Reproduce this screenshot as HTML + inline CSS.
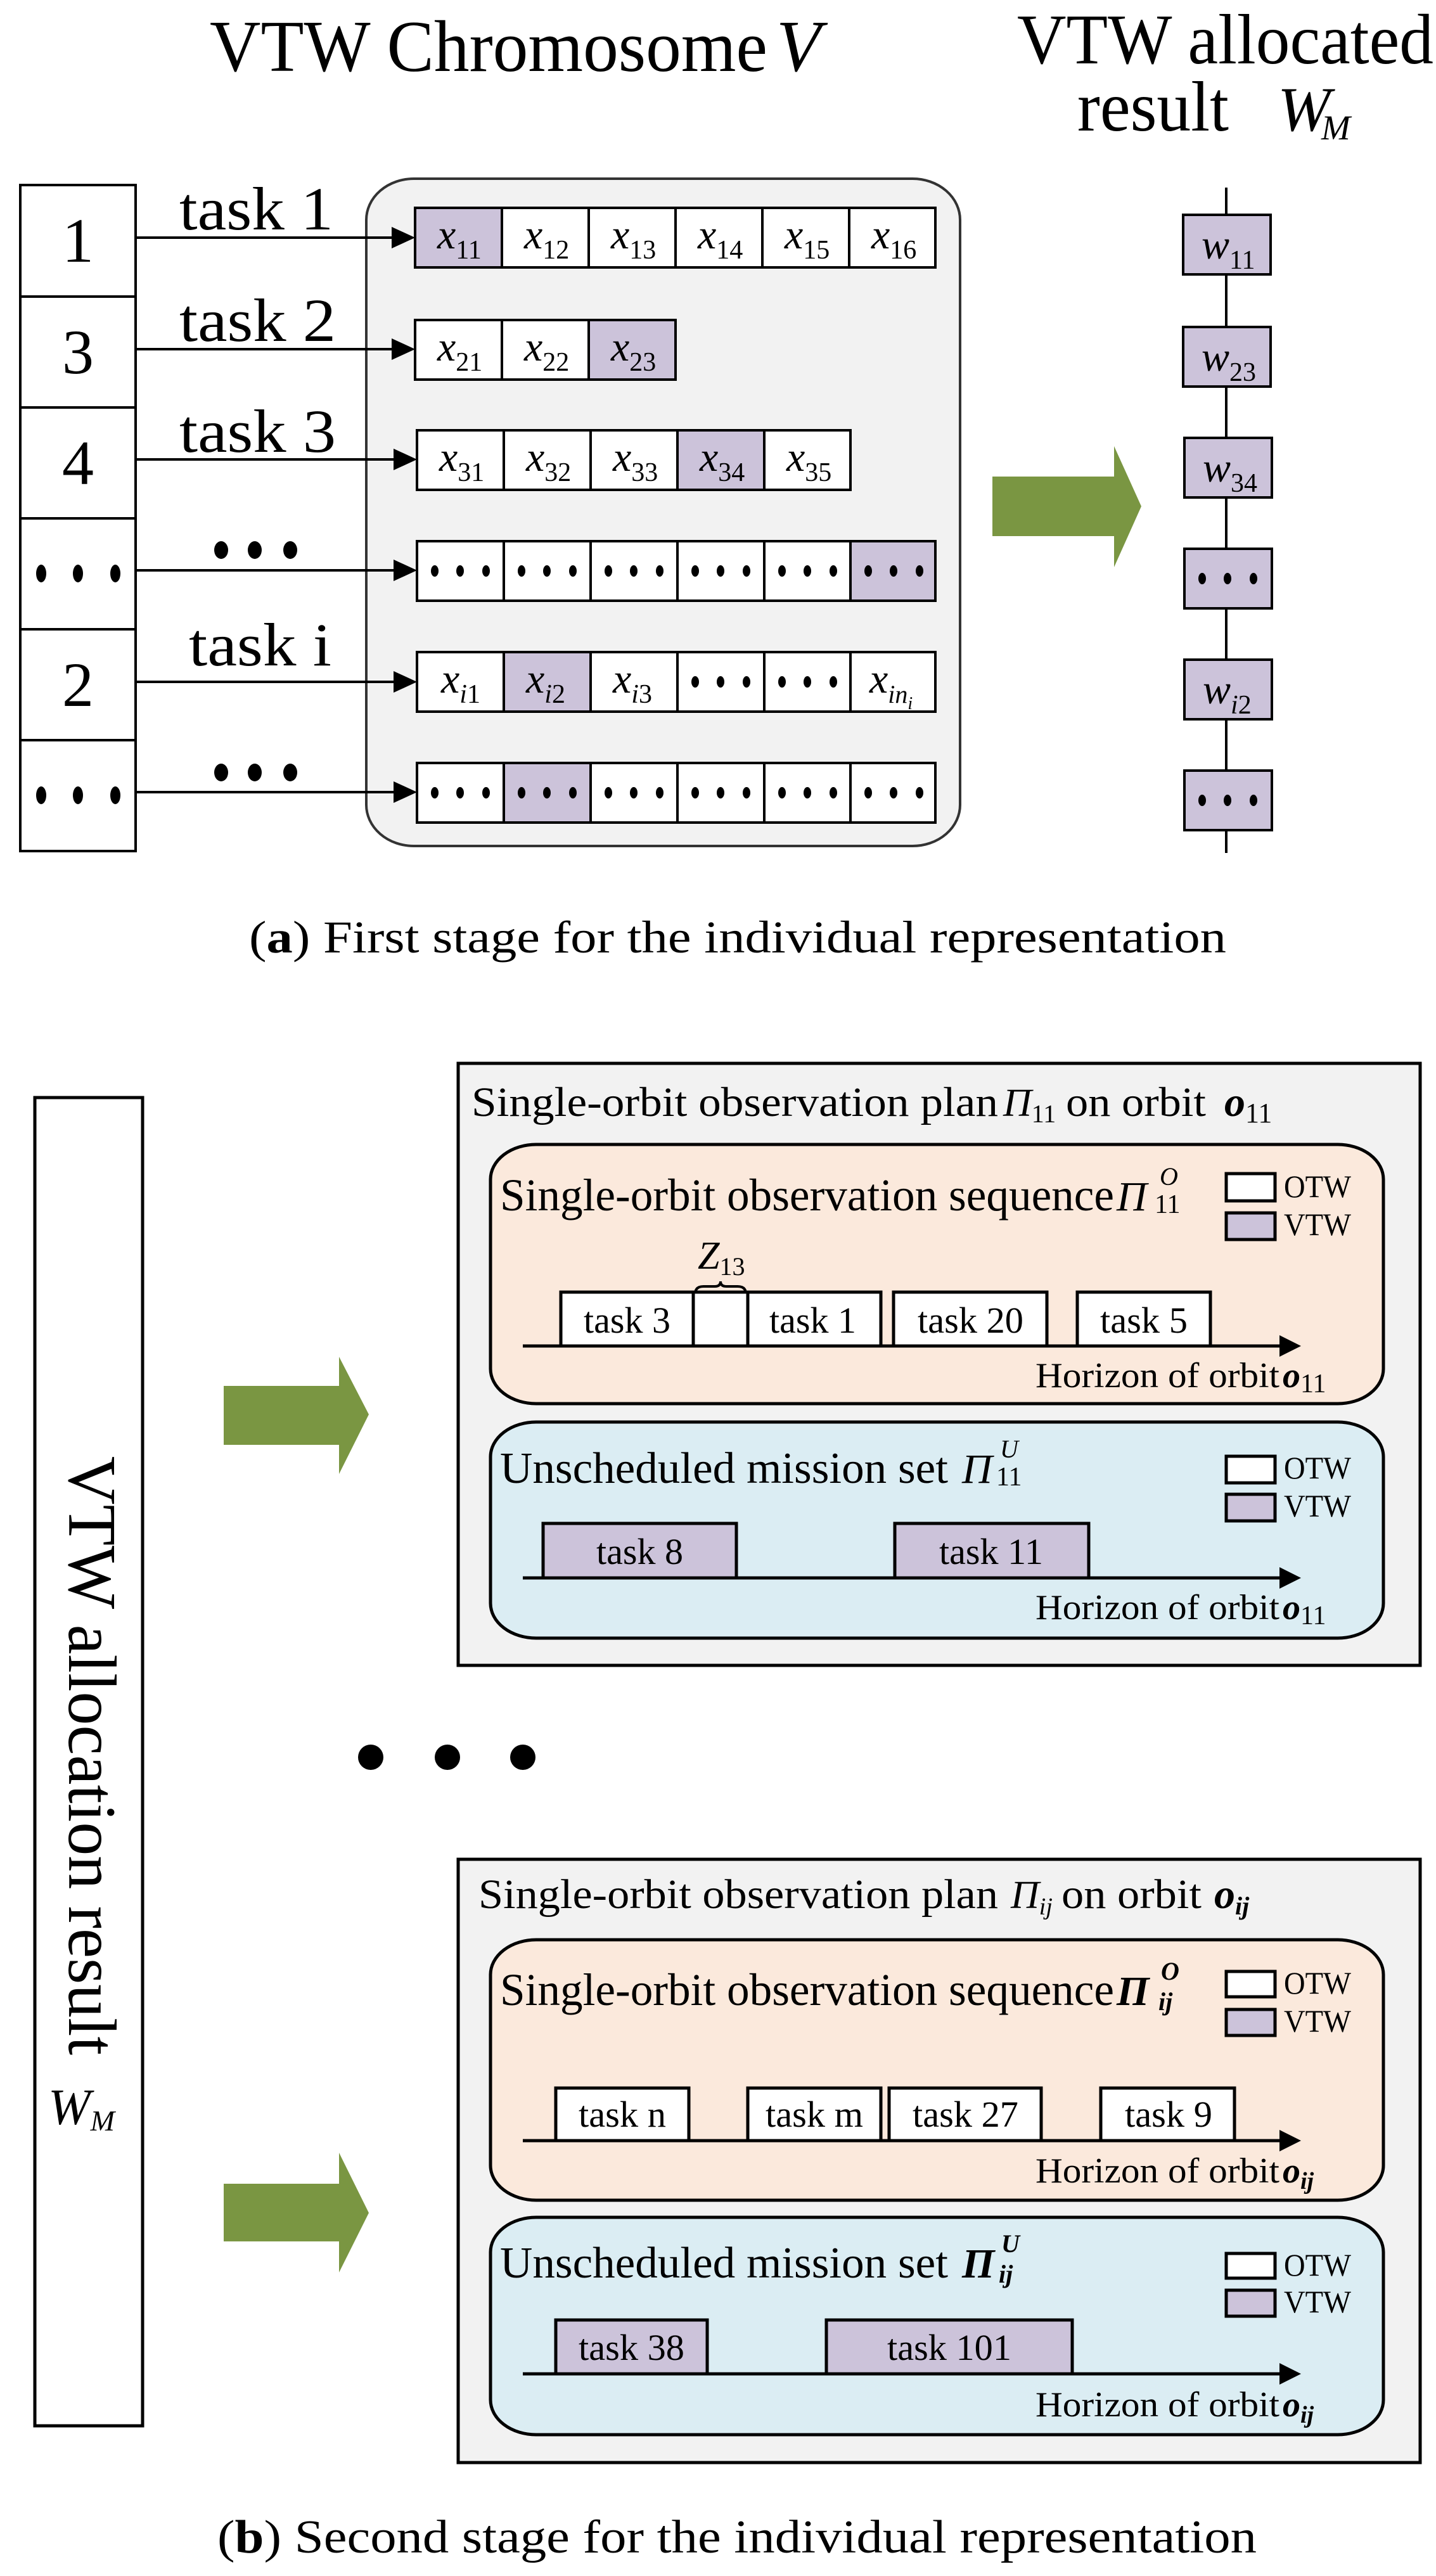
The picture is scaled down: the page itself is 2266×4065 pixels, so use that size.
<!DOCTYPE html>
<html><head><meta charset="utf-8"><style>
html,body{margin:0;padding:0;background:#fff}
svg{display:block}
text{font-family:"Liberation Serif",serif;fill:#000}
.i{font-style:italic}
</style></head><body>
<svg width="2266" height="4065" viewBox="0 0 2266 4065" xmlns="http://www.w3.org/2000/svg">
<defs>
<marker id="ah" markerWidth="10" markerHeight="10" refX="9" refY="5" orient="auto" markerUnits="userSpaceOnUse">
</marker>
</defs>
<!-- ===== Part (a) ===== -->
<text x="331" y="112" font-size="115" textLength="880" lengthAdjust="spacingAndGlyphs">VTW Chromosome</text>
<text x="1225" y="112" font-size="115" class="i">V</text>
<text x="1605" y="100" font-size="112" textLength="657" lengthAdjust="spacingAndGlyphs">VTW allocated</text>
<text x="1700" y="206" font-size="112" textLength="239" lengthAdjust="spacingAndGlyphs">result</text>
<text x="2016" y="206" font-size="100" class="i">W</text><text x="2085" y="220" font-size="55" class="i">M</text>

<!-- left column -->
<g stroke="#000" stroke-width="4" fill="#fff">
<rect x="32" y="292" width="182" height="1051"/>
<line x1="32" y1="468" x2="214" y2="468"/><line x1="32" y1="643" x2="214" y2="643"/>
<line x1="32" y1="818" x2="214" y2="818"/><line x1="32" y1="993" x2="214" y2="993"/>
<line x1="32" y1="1168" x2="214" y2="1168"/>
</g>
<g font-size="100" text-anchor="middle">
<text x="123" y="413">1</text><text x="123" y="589">3</text><text x="123" y="764">4</text><text x="123" y="1114">2</text>
</g>
<g fill="#000">
<ellipse cx="65" cy="905" rx="8" ry="14"/><ellipse cx="123" cy="905" rx="8" ry="14"/><ellipse cx="182" cy="905" rx="8" ry="14"/>
<ellipse cx="65" cy="1255" rx="8" ry="14"/><ellipse cx="123" cy="1255" rx="8" ry="14"/><ellipse cx="182" cy="1255" rx="8" ry="14"/>
<ellipse cx="349" cy="868" rx="11" ry="14"/><ellipse cx="402" cy="868" rx="11" ry="14"/><ellipse cx="458" cy="868" rx="11" ry="14"/>
<ellipse cx="349" cy="1219" rx="11" ry="14"/><ellipse cx="402" cy="1219" rx="11" ry="14"/><ellipse cx="458" cy="1219" rx="11" ry="14"/>
</g>
<g font-size="96">
<text x="283" y="362" textLength="243" lengthAdjust="spacingAndGlyphs">task 1</text>
<text x="283" y="538" textLength="247" lengthAdjust="spacingAndGlyphs">task 2</text>
<text x="283" y="713" textLength="247" lengthAdjust="spacingAndGlyphs">task 3</text>
<text x="298" y="1050" textLength="225" lengthAdjust="spacingAndGlyphs">task i</text>
</g>

<!-- gray container -->
<rect x="578" y="282" width="937" height="1053" rx="75" ry="65" fill="#f2f2f2" stroke="#333" stroke-width="4"/>

<!-- arrows -->
<g stroke="#000" stroke-width="4">
<line x1="214" y1="375" x2="625" y2="375"/><line x1="214" y1="551" x2="625" y2="551"/>
<line x1="214" y1="725" x2="628" y2="725"/><line x1="214" y1="900" x2="628" y2="900"/>
<line x1="214" y1="1076" x2="628" y2="1076"/><line x1="214" y1="1250" x2="628" y2="1250"/>
</g>
<g fill="#000">
<polygon points="618,358 655,375 618,392"/><polygon points="618,534 655,551 618,568"/>
<polygon points="621,708 658,725 621,742"/><polygon points="621,883 658,900 621,917"/>
<polygon points="621,1059 658,1076 621,1093"/><polygon points="621,1233 658,1250 621,1267"/>
</g>

<!-- cells -->
<g stroke="#000" stroke-width="4">
<!-- row1 -->
<rect x="655" y="328" width="137" height="94" fill="#ccc3da"/>
<rect x="792" y="328" width="137" height="94" fill="#fff"/><rect x="929" y="328" width="137" height="94" fill="#fff"/>
<rect x="1066" y="328" width="137" height="94" fill="#fff"/><rect x="1203" y="328" width="137" height="94" fill="#fff"/>
<rect x="1340" y="328" width="136" height="94" fill="#fff"/>
<!-- row2 -->
<rect x="655" y="505" width="137" height="94" fill="#fff"/><rect x="792" y="505" width="137" height="94" fill="#fff"/>
<rect x="929" y="505" width="137" height="94" fill="#ccc3da"/>
<!-- row3 -->
<rect x="658" y="679" width="137" height="94" fill="#fff"/><rect x="795" y="679" width="137" height="94" fill="#fff"/>
<rect x="932" y="679" width="137" height="94" fill="#fff"/><rect x="1069" y="679" width="137" height="94" fill="#ccc3da"/>
<rect x="1206" y="679" width="136" height="94" fill="#fff"/>
<!-- row4 -->
<rect x="658" y="854" width="137" height="94" fill="#fff"/><rect x="795" y="854" width="137" height="94" fill="#fff"/>
<rect x="932" y="854" width="137" height="94" fill="#fff"/><rect x="1069" y="854" width="137" height="94" fill="#fff"/>
<rect x="1206" y="854" width="136" height="94" fill="#fff"/><rect x="1342" y="854" width="134" height="94" fill="#ccc3da"/>
<!-- row5 -->
<rect x="658" y="1029" width="137" height="94" fill="#fff"/><rect x="795" y="1029" width="137" height="94" fill="#ccc3da"/>
<rect x="932" y="1029" width="137" height="94" fill="#fff"/><rect x="1069" y="1029" width="137" height="94" fill="#fff"/>
<rect x="1206" y="1029" width="136" height="94" fill="#fff"/><rect x="1342" y="1029" width="134" height="94" fill="#fff"/>
<!-- row6 -->
<rect x="658" y="1204" width="137" height="94" fill="#fff"/><rect x="795" y="1204" width="137" height="94" fill="#ccc3da"/>
<rect x="932" y="1204" width="137" height="94" fill="#fff"/><rect x="1069" y="1204" width="137" height="94" fill="#fff"/>
<rect x="1206" y="1204" width="136" height="94" fill="#fff"/><rect x="1342" y="1204" width="134" height="94" fill="#fff"/>
</g>
<g font-size="66">
<text x="690" y="392"><tspan class="i">x</tspan><tspan font-size="42" dy="16">11</tspan></text>
<text x="827" y="392"><tspan class="i">x</tspan><tspan font-size="42" dy="16">12</tspan></text>
<text x="964" y="392"><tspan class="i">x</tspan><tspan font-size="42" dy="16">13</tspan></text>
<text x="1101" y="392"><tspan class="i">x</tspan><tspan font-size="42" dy="16">14</tspan></text>
<text x="1238" y="392"><tspan class="i">x</tspan><tspan font-size="42" dy="16">15</tspan></text>
<text x="1375" y="392"><tspan class="i">x</tspan><tspan font-size="42" dy="16">16</tspan></text>
<text x="690" y="569"><tspan class="i">x</tspan><tspan font-size="42" dy="16">21</tspan></text>
<text x="827" y="569"><tspan class="i">x</tspan><tspan font-size="42" dy="16">22</tspan></text>
<text x="964" y="569"><tspan class="i">x</tspan><tspan font-size="42" dy="16">23</tspan></text>
<text x="693" y="743"><tspan class="i">x</tspan><tspan font-size="42" dy="16">31</tspan></text>
<text x="830" y="743"><tspan class="i">x</tspan><tspan font-size="42" dy="16">32</tspan></text>
<text x="967" y="743"><tspan class="i">x</tspan><tspan font-size="42" dy="16">33</tspan></text>
<text x="1104" y="743"><tspan class="i">x</tspan><tspan font-size="42" dy="16">34</tspan></text>
<text x="1241" y="743"><tspan class="i">x</tspan><tspan font-size="42" dy="16">35</tspan></text>
<text x="696" y="1093"><tspan class="i">x</tspan><tspan font-size="42" dy="16" class="i">i</tspan><tspan font-size="42">1</tspan></text>
<text x="830" y="1093"><tspan class="i">x</tspan><tspan font-size="42" dy="16" class="i">i</tspan><tspan font-size="42">2</tspan></text>
<text x="967" y="1093"><tspan class="i">x</tspan><tspan font-size="42" dy="16" class="i">i</tspan><tspan font-size="42">3</tspan></text>
<text x="1372" y="1093"><tspan class="i">x</tspan><tspan font-size="40" dy="16" class="i">in</tspan><tspan font-size="28" dy="10" class="i">i</tspan></text>
</g>
<g fill="#000">
<!-- dots row4 -->
<g transform="translate(658,901)"><ellipse cx="28" cy="0" rx="6" ry="9"/><ellipse cx="68" cy="0" rx="6" ry="9"/><ellipse cx="109" cy="0" rx="6" ry="9"/></g>
<g transform="translate(795,901)"><ellipse cx="28" cy="0" rx="6" ry="9"/><ellipse cx="68" cy="0" rx="6" ry="9"/><ellipse cx="109" cy="0" rx="6" ry="9"/></g>
<g transform="translate(932,901)"><ellipse cx="28" cy="0" rx="6" ry="9"/><ellipse cx="68" cy="0" rx="6" ry="9"/><ellipse cx="109" cy="0" rx="6" ry="9"/></g>
<g transform="translate(1069,901)"><ellipse cx="28" cy="0" rx="6" ry="9"/><ellipse cx="68" cy="0" rx="6" ry="9"/><ellipse cx="109" cy="0" rx="6" ry="9"/></g>
<g transform="translate(1206,901)"><ellipse cx="28" cy="0" rx="6" ry="9"/><ellipse cx="68" cy="0" rx="6" ry="9"/><ellipse cx="109" cy="0" rx="6" ry="9"/></g>
<g transform="translate(1342,901)"><ellipse cx="28" cy="0" rx="6" ry="9"/><ellipse cx="68" cy="0" rx="6" ry="9"/><ellipse cx="109" cy="0" rx="6" ry="9"/></g>
<!-- row5 dots -->
<g transform="translate(1069,1076)"><ellipse cx="28" cy="0" rx="6" ry="9"/><ellipse cx="68" cy="0" rx="6" ry="9"/><ellipse cx="109" cy="0" rx="6" ry="9"/></g>
<g transform="translate(1206,1076)"><ellipse cx="28" cy="0" rx="6" ry="9"/><ellipse cx="68" cy="0" rx="6" ry="9"/><ellipse cx="109" cy="0" rx="6" ry="9"/></g>
<!-- row6 dots -->
<g transform="translate(658,1251)"><ellipse cx="28" cy="0" rx="6" ry="9"/><ellipse cx="68" cy="0" rx="6" ry="9"/><ellipse cx="109" cy="0" rx="6" ry="9"/></g>
<g transform="translate(795,1251)"><ellipse cx="28" cy="0" rx="6" ry="9"/><ellipse cx="68" cy="0" rx="6" ry="9"/><ellipse cx="109" cy="0" rx="6" ry="9"/></g>
<g transform="translate(932,1251)"><ellipse cx="28" cy="0" rx="6" ry="9"/><ellipse cx="68" cy="0" rx="6" ry="9"/><ellipse cx="109" cy="0" rx="6" ry="9"/></g>
<g transform="translate(1069,1251)"><ellipse cx="28" cy="0" rx="6" ry="9"/><ellipse cx="68" cy="0" rx="6" ry="9"/><ellipse cx="109" cy="0" rx="6" ry="9"/></g>
<g transform="translate(1206,1251)"><ellipse cx="28" cy="0" rx="6" ry="9"/><ellipse cx="68" cy="0" rx="6" ry="9"/><ellipse cx="109" cy="0" rx="6" ry="9"/></g>
<g transform="translate(1342,1251)"><ellipse cx="28" cy="0" rx="6" ry="9"/><ellipse cx="68" cy="0" rx="6" ry="9"/><ellipse cx="109" cy="0" rx="6" ry="9"/></g>
</g>

<!-- green arrow a -->
<polygon points="1566,752 1758,752 1758,704 1801,799 1758,895 1758,846 1566,846" fill="#7a9642"/>

<!-- right column -->
<line x1="1935" y1="296" x2="1935" y2="1346" stroke="#000" stroke-width="4"/>
<g stroke="#000" stroke-width="4" fill="#ccc3da">
<rect x="1867" y="339" width="138" height="94"/><rect x="1867" y="516" width="138" height="94"/>
<rect x="1869" y="691" width="138" height="94"/><rect x="1869" y="866" width="138" height="94"/>
<rect x="1869" y="1041" width="138" height="94"/><rect x="1869" y="1216" width="138" height="94"/>
</g>
<g font-size="66">
<text x="1896" y="408"><tspan class="i">w</tspan><tspan font-size="42" dy="16">11</tspan></text>
<text x="1896" y="585"><tspan class="i">w</tspan><tspan font-size="42" dy="16">23</tspan></text>
<text x="1898" y="760"><tspan class="i">w</tspan><tspan font-size="42" dy="16">34</tspan></text>
<text x="1898" y="1110"><tspan class="i">w</tspan><tspan font-size="42" dy="16" class="i">i</tspan><tspan font-size="42">2</tspan></text>
</g>
<g fill="#000">
<g transform="translate(1869,913)"><ellipse cx="28" cy="0" rx="6" ry="9"/><ellipse cx="68" cy="0" rx="6" ry="9"/><ellipse cx="109" cy="0" rx="6" ry="9"/></g>
<g transform="translate(1869,1263)"><ellipse cx="28" cy="0" rx="6" ry="9"/><ellipse cx="68" cy="0" rx="6" ry="9"/><ellipse cx="109" cy="0" rx="6" ry="9"/></g>
</g>

<text x="393" y="1503" font-size="72" textLength="1542" lengthAdjust="spacingAndGlyphs">(<tspan font-weight="bold">a</tspan>) First stage for the individual representation</text>

<!-- ===== Part (b) ===== -->
<rect x="55" y="1732" width="170" height="2096" fill="#fff" stroke="#000" stroke-width="5"/>
<text transform="translate(109,2298) rotate(90)" font-size="108" textLength="945" lengthAdjust="spacingAndGlyphs">VTW allocation result</text>
<text x="76" y="3352" font-size="80" class="i">W<tspan font-size="46" dy="10">M</tspan></text>

<polygon points="353,2187 535,2187 535,2141 582,2232 535,2326 535,2280 353,2280" fill="#7a9642"/>
<polygon points="353,3446 535,3446 535,3397 582,3492 535,3586 535,3537 353,3537" fill="#7a9642"/>

<g fill="#000"><circle cx="585" cy="2773" r="20"/><circle cx="706" cy="2773" r="20"/><circle cx="825" cy="2773" r="20"/></g>

<!-- plan 1 -->
<rect x="723" y="1678" width="1518" height="950" fill="#f2f2f2" stroke="#000" stroke-width="5"/>
<text x="744" y="1761" font-size="66" textLength="831" lengthAdjust="spacingAndGlyphs">Single-orbit observation plan</text>
<text x="1583" y="1761" font-size="62" class="i">Π<tspan font-size="40" font-style="normal" dy="10">11</tspan></text>
<text x="1682" y="1761" font-size="66" textLength="221" lengthAdjust="spacingAndGlyphs">on orbit</text>
<text x="1932" y="1761" font-size="66" class="i" font-weight="bold">o<tspan font-size="44" font-style="normal" font-weight="normal" dy="10">11</tspan></text>

<rect x="774" y="1806" width="1409" height="409" rx="72" ry="55" fill="#fbe9dc" stroke="#000" stroke-width="5"/>
<text x="789" y="1910" font-size="72" textLength="969" lengthAdjust="spacingAndGlyphs">Single-orbit observation sequence</text>
<text x="1762" y="1910" font-size="66" class="i">Π</text>
<text x="1830" y="1870" font-size="40" class="i">O</text><text x="1822" y="1914" font-size="42">11</text>
<g stroke="#000" stroke-width="5"><rect x="1935" y="1852" width="77" height="43" fill="#fff"/><rect x="1935" y="1914" width="77" height="42" fill="#ccc3da"/></g>
<text x="2026" y="1889" font-size="50" textLength="106" lengthAdjust="spacingAndGlyphs">OTW</text>
<text x="2026" y="1949" font-size="50" textLength="106" lengthAdjust="spacingAndGlyphs">VTW</text>
<text x="1101" y="2002" font-size="62" class="i">Z<tspan font-size="40" font-style="normal" dy="10">13</tspan></text>
<path d="M1097,2042 Q1097,2030 1110,2030 L1128,2030 Q1137,2030 1137,2022 Q1137,2030 1146,2030 L1164,2030 Q1177,2030 1177,2042" fill="none" stroke="#000" stroke-width="4"/>
<g stroke="#000" stroke-width="5" fill="#fff">
<rect x="885" y="2039" width="209" height="85"/><rect x="1094" y="2039" width="86" height="85"/>
<rect x="1180" y="2039" width="210" height="85"/><rect x="1410" y="2039" width="242" height="85"/>
<rect x="1700" y="2039" width="210" height="85"/>
</g>
<line x1="825" y1="2124" x2="2025" y2="2124" stroke="#000" stroke-width="5"/>
<polygon points="2019,2107 2053,2124 2019,2141" fill="#000"/>
<g font-size="58">
<text x="921" y="2103" textLength="137" lengthAdjust="spacingAndGlyphs">task 3</text>
<text x="1214" y="2103" textLength="137" lengthAdjust="spacingAndGlyphs">task 1</text>
<text x="1448" y="2103" textLength="167" lengthAdjust="spacingAndGlyphs">task 20</text>
<text x="1736" y="2103" textLength="138" lengthAdjust="spacingAndGlyphs">task 5</text>
</g>
<text x="1634" y="2189" font-size="56" textLength="385" lengthAdjust="spacingAndGlyphs">Horizon of orbit</text>
<text x="2024" y="2189" font-size="56" class="i" font-weight="bold">o<tspan font-size="42" font-style="normal" font-weight="normal" dy="8">11</tspan></text>

<rect x="774" y="2244" width="1409" height="341" rx="72" ry="55" fill="#dbedf3" stroke="#000" stroke-width="5"/>
<text x="789" y="2340" font-size="70" textLength="707" lengthAdjust="spacingAndGlyphs">Unscheduled mission set</text>
<text x="1518" y="2340" font-size="66" class="i">Π</text>
<text x="1578" y="2300" font-size="40" class="i">U</text><text x="1572" y="2344" font-size="42">11</text>
<g stroke="#000" stroke-width="5"><rect x="1935" y="2298" width="77" height="42" fill="#fff"/><rect x="1935" y="2358" width="77" height="42" fill="#ccc3da"/></g>
<text x="2026" y="2333" font-size="50" textLength="106" lengthAdjust="spacingAndGlyphs">OTW</text>
<text x="2026" y="2393" font-size="50" textLength="106" lengthAdjust="spacingAndGlyphs">VTW</text>
<g stroke="#000" stroke-width="5" fill="#ccc3da">
<rect x="857" y="2404" width="305" height="86"/><rect x="1412" y="2404" width="306" height="86"/>
</g>
<line x1="825" y1="2490" x2="2025" y2="2490" stroke="#000" stroke-width="5"/>
<polygon points="2019,2473 2053,2490 2019,2507" fill="#000"/>
<g font-size="58">
<text x="941" y="2468" textLength="137" lengthAdjust="spacingAndGlyphs">task 8</text>
<text x="1482" y="2468" textLength="164" lengthAdjust="spacingAndGlyphs">task 11</text>
</g>
<text x="1634" y="2555" font-size="56" textLength="385" lengthAdjust="spacingAndGlyphs">Horizon of orbit</text>
<text x="2024" y="2555" font-size="56" class="i" font-weight="bold">o<tspan font-size="42" font-style="normal" font-weight="normal" dy="8">11</tspan></text>

<!-- plan ij -->
<rect x="723" y="2934" width="1518" height="952" fill="#f2f2f2" stroke="#000" stroke-width="5"/>
<text x="755" y="3011" font-size="66" textLength="820" lengthAdjust="spacingAndGlyphs">Single-orbit observation plan</text>
<text x="1595" y="3011" font-size="62" class="i">Π<tspan font-size="38" dy="10">ij</tspan></text>
<text x="1675" y="3011" font-size="66" textLength="221" lengthAdjust="spacingAndGlyphs">on orbit</text>
<text x="1916" y="3011" font-size="66" class="i" font-weight="bold">o<tspan font-size="40" dy="10">ij</tspan></text>

<rect x="774" y="3061" width="1409" height="411" rx="72" ry="55" fill="#fbe9dc" stroke="#000" stroke-width="5"/>
<text x="789" y="3164" font-size="72" textLength="969" lengthAdjust="spacingAndGlyphs">Single-orbit observation sequence</text>
<text x="1762" y="3164" font-size="66" class="i" font-weight="bold">Π</text>
<text x="1832" y="3124" font-size="40" class="i" font-weight="bold">O</text><text x="1828" y="3172" font-size="40" class="i" font-weight="bold">ij</text>
<g stroke="#000" stroke-width="5"><rect x="1935" y="3111" width="77" height="40" fill="#fff"/><rect x="1935" y="3171" width="77" height="41" fill="#ccc3da"/></g>
<text x="2026" y="3146" font-size="50" textLength="106" lengthAdjust="spacingAndGlyphs">OTW</text>
<text x="2026" y="3206" font-size="50" textLength="106" lengthAdjust="spacingAndGlyphs">VTW</text>
<g stroke="#000" stroke-width="5" fill="#fff">
<rect x="877" y="3295" width="210" height="83"/><rect x="1180" y="3295" width="210" height="83"/>
<rect x="1403" y="3295" width="240" height="83"/><rect x="1737" y="3295" width="211" height="83"/>
</g>
<line x1="825" y1="3378" x2="2025" y2="3378" stroke="#000" stroke-width="5"/>
<polygon points="2019,3361 2053,3378 2019,3395" fill="#000"/>
<g font-size="58">
<text x="913" y="3356" textLength="138" lengthAdjust="spacingAndGlyphs">task n</text>
<text x="1208" y="3356" textLength="154" lengthAdjust="spacingAndGlyphs">task m</text>
<text x="1440" y="3356" textLength="167" lengthAdjust="spacingAndGlyphs">task 27</text>
<text x="1775" y="3356" textLength="138" lengthAdjust="spacingAndGlyphs">task 9</text>
</g>
<text x="1634" y="3444" font-size="56" textLength="385" lengthAdjust="spacingAndGlyphs">Horizon of orbit</text>
<text x="2024" y="3444" font-size="56" class="i" font-weight="bold">o<tspan font-size="38" dy="10">ij</tspan></text>

<rect x="774" y="3499" width="1409" height="343" rx="72" ry="55" fill="#dbedf3" stroke="#000" stroke-width="5"/>
<text x="789" y="3594" font-size="70" textLength="707" lengthAdjust="spacingAndGlyphs">Unscheduled mission set</text>
<text x="1518" y="3594" font-size="66" class="i" font-weight="bold">Π</text>
<text x="1580" y="3554" font-size="40" class="i" font-weight="bold">U</text><text x="1576" y="3602" font-size="40" class="i" font-weight="bold">ij</text>
<g stroke="#000" stroke-width="5"><rect x="1935" y="3556" width="77" height="39" fill="#fff"/><rect x="1935" y="3614" width="77" height="41" fill="#ccc3da"/></g>
<text x="2026" y="3591" font-size="50" textLength="106" lengthAdjust="spacingAndGlyphs">OTW</text>
<text x="2026" y="3649" font-size="50" textLength="106" lengthAdjust="spacingAndGlyphs">VTW</text>
<g stroke="#000" stroke-width="5" fill="#ccc3da">
<rect x="877" y="3661" width="239" height="85"/><rect x="1304" y="3661" width="388" height="85"/>
</g>
<line x1="825" y1="3746" x2="2025" y2="3746" stroke="#000" stroke-width="5"/>
<polygon points="2019,3729 2053,3746 2019,3763" fill="#000"/>
<g font-size="58">
<text x="913" y="3724" textLength="167" lengthAdjust="spacingAndGlyphs">task 38</text>
<text x="1400" y="3724" textLength="196" lengthAdjust="spacingAndGlyphs">task 101</text>
</g>
<text x="1634" y="3813" font-size="56" textLength="385" lengthAdjust="spacingAndGlyphs">Horizon of orbit</text>
<text x="2024" y="3813" font-size="56" class="i" font-weight="bold">o<tspan font-size="38" dy="10">ij</tspan></text>

<text x="343" y="4028" font-size="74" textLength="1640" lengthAdjust="spacingAndGlyphs">(<tspan font-weight="bold">b</tspan>) Second stage for the individual representation</text>
</svg>
</body></html>
